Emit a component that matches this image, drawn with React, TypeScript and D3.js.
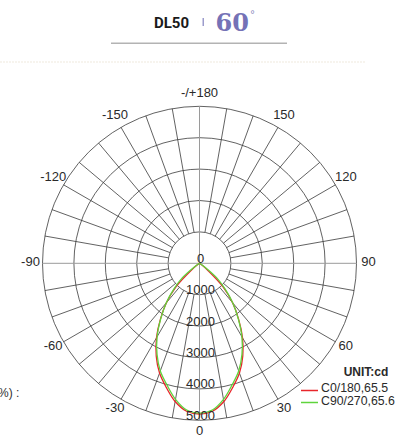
import React from "react";
import * as d3 from "d3";

const angles = [0, 5, 10, 15, 20, 25, 30, 35, 40, 45, 50, 55, 60, 65, 70, 75, 80, 85, 90];
const c0Values = [4800, 4730, 4470, 4090, 3720, 3260, 2740, 2170, 1640, 1060, 320, 60, 20, 5, 0, 0, 0, 0, 0];
const c90Values = [4770, 4690, 4400, 4010, 3650, 3200, 2700, 2150, 1650, 1150, 700, 200, 40, 10, 0, 0, 0, 0, 0];
const ringValues = [0, 1000, 2000, 3000, 4000, 5000];
const angleLabels = [
  { a: 180, t: "-/+180" },
  { a: -150, t: "-150" },
  { a: 150, t: "150" },
  { a: -120, t: "-120" },
  { a: 120, t: "120" },
  { a: -90, t: "-90" },
  { a: 90, t: "90" },
  { a: -60, t: "-60" },
  { a: 60, t: "60" },
  { a: -30, t: "-30" },
  { a: 30, t: "30" },
  { a: 0, t: "0" },
];
const legendItems = [
  { name: "C0/180,65.5", color: "#e8262b" },
  { name: "C90/270,65.6", color: "#5fd43c" },
];

const cx = 199.5;
const cy = 263.3;
const R = 157;
const font = "'Liberation Sans', Arial, sans-serif";

export default function App() {
  const r = d3.scaleLinear().domain([0, 5000]).range([0, R]);
  const toRad = (deg: number) => (deg * Math.PI) / 180;
  const px = (deg: number, rad: number) => cx + rad * Math.sin(toRad(deg));
  const py = (deg: number, rad: number) => cy + rad * Math.cos(toRad(deg));

  const fullCurve = (vals: number[]) => {
    const pts: { a: number; v: number }[] = [];
    for (let i = angles.length - 1; i > 0; i--) pts.push({ a: -angles[i], v: vals[i] });
    for (let i = 0; i < angles.length; i++) pts.push({ a: angles[i], v: vals[i] });
    return d3
      .lineRadial<{ a: number; v: number }>()
      .angle((d) => Math.PI - toRad(d.a))
      .radius((d) => r(d.v))
      .curve(d3.curveCatmullRom.alpha(0.5))(pts) as string;
  };

  const spokes: number[] = [];
  for (let a = 0; a < 360; a += 10) if (a % 90 !== 0) spokes.push(a);

  return (
    <svg width={400} height={439} style={{ position: "absolute", left: 0, top: 0, background: "#fff" }}>
      {/* Title */}
      <text x={154} y={28} fontFamily="Roboto, sans-serif" fontWeight={700} fontSize={15} fill="#1a1a1a">
        DL50
      </text>
      <rect x={202.5} y={18} width={1.5} height={8} fill="#9c9ccc" />
      <text x={215.5} y={31} fontFamily="'DejaVu Serif', serif" fontWeight={700} fontSize={24} fill="#7572b6">
        60
      </text>
      <text x={250} y={18} fontFamily="'DejaVu Sans', sans-serif" fontSize={10} fill="#8e8cc0">
        °
      </text>
      <line x1={111} x2={287} y1={43.3} y2={43.3} stroke="#b3b3b3" strokeWidth={1.4} />
      <line x1={0} x2={366} y1={62} y2={62} stroke="#f7f4ee" strokeWidth={2} strokeDasharray="2 1" />

      {/* Grid */}
      <g fill="none" stroke="#3a3a3a" strokeWidth={0.8}>
        {ringValues.slice(1).map((v) => (
          <circle key={v} cx={cx} cy={cy} r={r(v)} />
        ))}
        {spokes.map((a) => (
          <line key={a} x1={px(a, r(1000))} y1={py(a, r(1000))} x2={px(a, R)} y2={py(a, R)} />
        ))}
      </g>
      <g stroke="#9a9a9a" strokeWidth={1}>
        <line x1={cx - R} x2={cx + R} y1={cy} y2={cy} />
        <line x1={cx} x2={cx} y1={cy - R} y2={cy + R} />
      </g>

      {/* Curves */}
      <g transform={`translate(${cx},${cy})`} fill="none" strokeWidth={1.3}>
        <path d={fullCurve(c0Values)} stroke={legendItems[0].color} />
        <path d={fullCurve(c90Values)} stroke={legendItems[1].color} />
      </g>

      {/* Ring labels */}
      <g fontFamily={font} fontSize={13} fill="#2a2a2a" textAnchor="middle">
        {ringValues.map((v) => (
          <text key={v} x={cx + 1} y={cy + r(v) - 4} dominantBaseline="middle">
            {v}
          </text>
        ))}
      </g>

      {/* Angle labels */}
      <g fontFamily={font} fontSize={13} fill="#2a2a2a" textAnchor="middle">
        {angleLabels.map((l) => (
          <text key={l.t} x={px(l.a, 169)} y={py(l.a, 169) - 1} dominantBaseline="middle">
            {l.t}
          </text>
        ))}
      </g>

      {/* Legend */}
      <text x={366} y={376} textAnchor="middle" fontFamily={font} fontWeight={700} fontSize={12} fill="#2a2a2a">
        UNIT:cd
      </text>
      {legendItems.map((it, i) => (
        <g key={it.name}>
          <line x1={301} x2={318} y1={390.5 + i * 12} y2={390.5 + i * 12} stroke={it.color} strokeWidth={1.5} />
          <text x={321} y={389 + i * 12.5} dominantBaseline="middle" fontFamily={font} fontSize={12.3} fill="#2a2a2a">
            {it.name}
          </text>
        </g>
      ))}

      <text x={-2} y={394} dominantBaseline="middle" fontFamily={font} fontSize={12} fill="#333">
        %) :
      </text>
    </svg>
  );
}
